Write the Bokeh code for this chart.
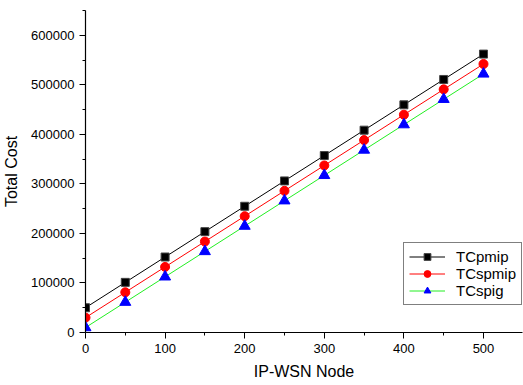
from bokeh.plotting import figure
from bokeh.models import Range1d, FixedTicker, Legend, LegendItem
from bokeh.embed import file_html
from bokeh.resources import INLINE

nodes = [0, 50, 100, 150, 200, 250, 300, 350, 400, 450, 500]
tc_pmip = [50000, 101200, 152400, 203600, 254800, 306000, 357200, 408400, 459600, 510800, 562000]
tc_spmip = [30000, 81200, 132400, 183600, 234800, 286000, 337200, 388400, 439600, 490800, 542000]
tc_spig = [10000, 61200, 112400, 163600, 214800, 266000, 317200, 368400, 419600, 470800, 522000]

x_ticks = [0, 100, 200, 300, 400, 500]
x_minor = [50, 150, 250, 350, 450]
y_ticks = [0, 100000, 200000, 300000, 400000, 500000, 600000]
y_minor = [50000, 150000, 250000, 350000, 450000, 550000, 650000]

FONT = "Liberation Sans"

p = figure(width=523, height=385, output_backend="svg", toolbar_location=None,
           x_range=Range1d(0, 549), y_range=Range1d(0, 650000),
           min_border_left=85, min_border_right=1, min_border_top=10, min_border_bottom=53)
p.outline_line_color = None
p.grid.visible = False
p.background_fill_color = "white"

for ax in (p.xaxis[0], p.yaxis[0]):
    ax.axis_line_color = "black"
    ax.axis_line_width = 1.2
    ax.major_tick_line_color = "black"
    ax.minor_tick_line_color = "black"
    ax.major_tick_in = 0
    ax.major_tick_out = 6
    ax.minor_tick_in = 0
    ax.minor_tick_out = 3
    ax.major_label_text_font = FONT
    ax.major_label_text_font_size = "13px"
    ax.major_label_text_color = "black"
    ax.axis_label_text_font = FONT
    ax.axis_label_text_font_size = "16px"
    ax.axis_label_text_font_style = "normal"
    ax.axis_label_text_color = "black"
    ax.major_label_standoff = 5

p.xaxis[0].ticker = FixedTicker(ticks=x_ticks, minor_ticks=x_minor)
p.yaxis[0].ticker = FixedTicker(ticks=y_ticks, minor_ticks=y_minor)
p.yaxis[0].formatter.use_scientific = False
p.xaxis[0].axis_label = "IP-WSN Node"
p.yaxis[0].axis_label = "Total Cost"
p.xaxis[0].axis_label_standoff = 7
p.yaxis[0].axis_label_standoff = 8

l1 = p.line(nodes, tc_pmip, line_color="black", line_width=1)
m1 = p.scatter(nodes, tc_pmip, marker="square", size=8, fill_color="black", line_color="#444444")
l2 = p.line(nodes, tc_spmip, line_color="red", line_width=1)
m2 = p.scatter(nodes, tc_spmip, marker="circle", size=9, fill_color="red", line_color="red")
l3 = p.line(nodes, tc_spig, line_color="#22ee22", line_width=1)
m3 = p.scatter(nodes, tc_spig, marker="triangle", size=11, fill_color="blue", line_color="blue")

legend = Legend(items=[
    LegendItem(label="TCpmip", renderers=[l1, m1]),
    LegendItem(label="TCspmip", renderers=[l2, m2]),
    LegendItem(label="TCspig", renderers=[l3, m3]),
], location=(318, 27))
legend.border_line_color = "black"
legend.border_line_width = 1
legend.label_text_font = FONT
legend.label_text_font_size = "15px"
legend.label_text_color = "black"
legend.glyph_width = 36
legend.glyph_height = 17
legend.label_height = 17
legend.label_standoff = 11
legend.spacing = 0
legend.padding = 5
legend.margin = 0
legend.background_fill_alpha = 1
p.add_layout(legend, "center")

open("out.html", "w").write(file_html(p, INLINE))
